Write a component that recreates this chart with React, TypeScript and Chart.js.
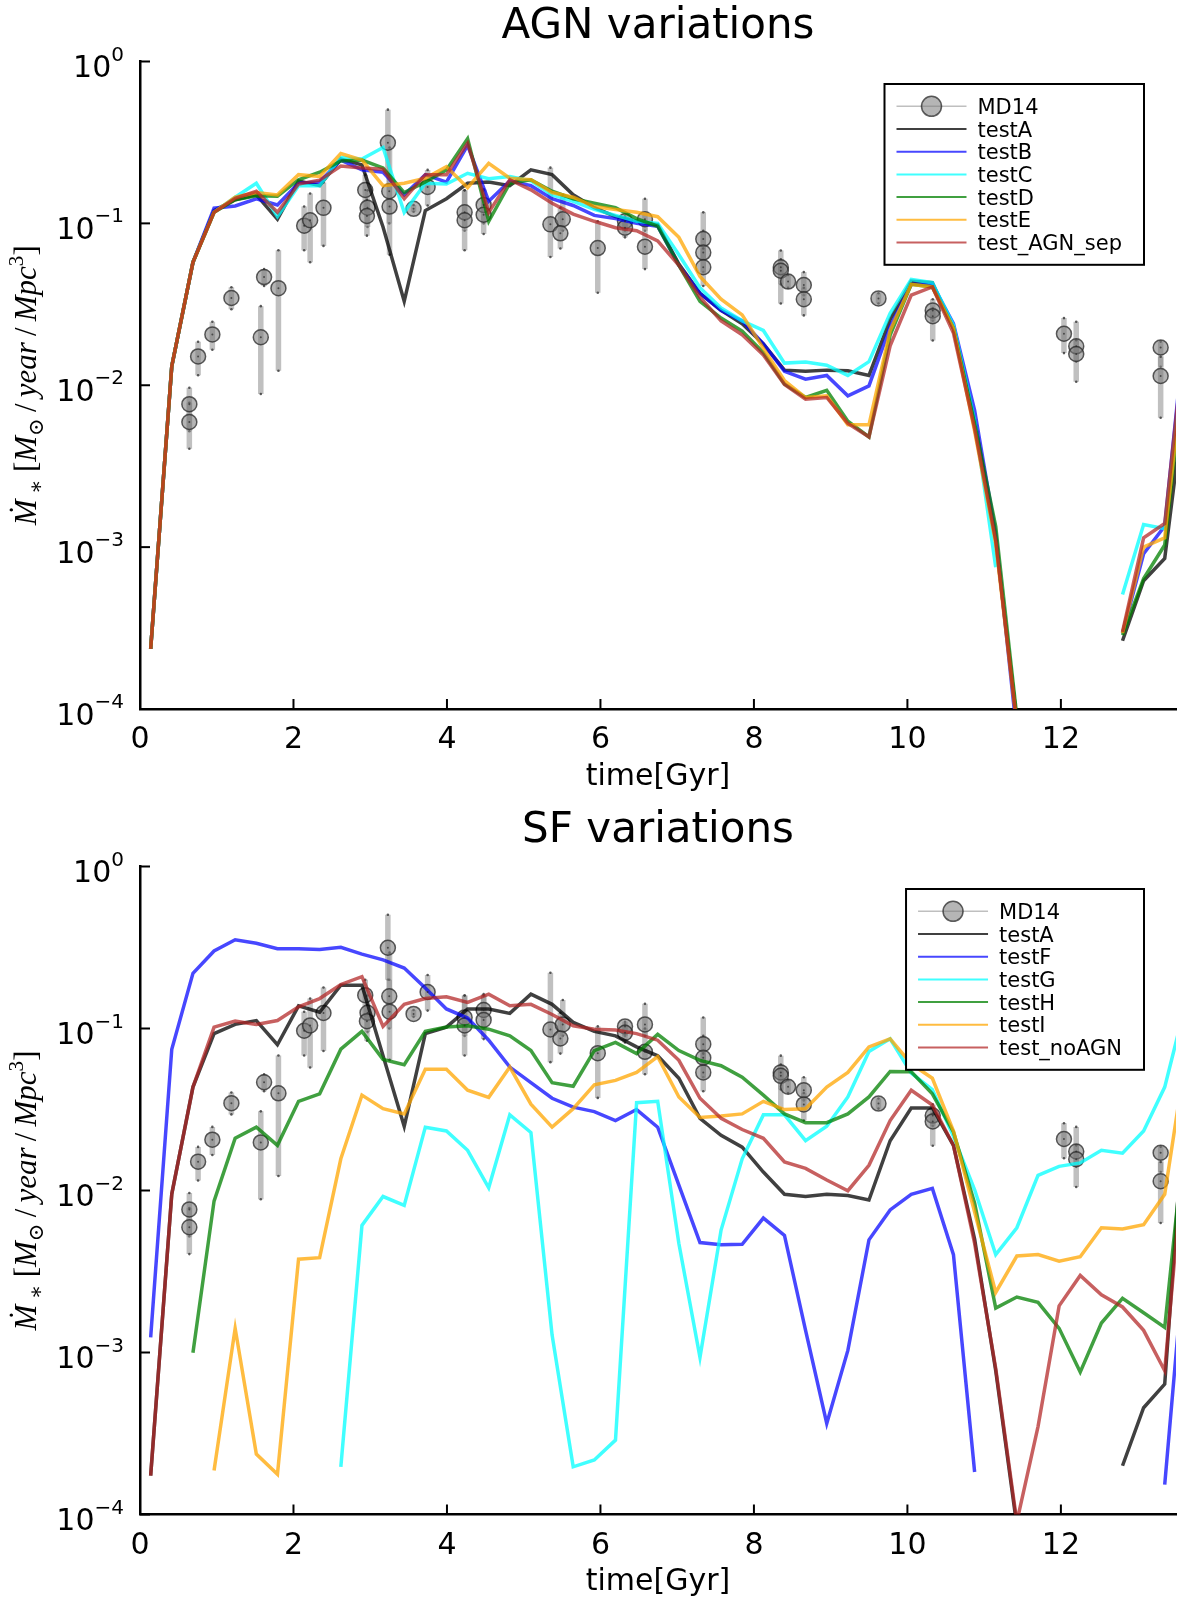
import React, { useEffect, useRef } from "react";
import { Chart, registerables } from "chart.js";

Chart.register(...registerables);

// ---------------- data ----------------
const timeGyr = [
  0.139, 0.414, 0.69, 0.965, 1.24, 1.516, 1.791, 2.066, 2.341, 2.617,
  2.892, 3.167, 3.443, 3.718, 3.993, 4.269, 4.544, 4.819, 5.094, 5.37,
  5.645, 5.92, 6.196, 6.471, 6.746, 7.022, 7.297, 7.572, 7.847, 8.123,
  8.398, 8.673, 8.949, 9.224, 9.499, 9.775, 10.05, 10.325, 10.6, 10.876,
  11.151, 11.426, 11.702, 11.977, 12.252, 12.528, 12.803, 13.078, 13.353, 13.629,
];

const agnTestA = [
  2.35e-4, 0.0131, 0.0575, 0.12, 0.14, 0.15, 0.106, 0.183, 0.171, 0.25,
  0.23, 0.095, 0.033, 0.12, 0.142, 0.177, 0.18, 0.171, 0.214, 0.2,
  0.15, 0.125, 0.11, 0.103, 0.098, 0.056, 0.037, 0.029, 0.024, 0.018,
  0.0124, 0.0122, 0.0124, 0.0123, 0.0115, 0.0255, 0.044, 0.043, 0.0225, 0.0061,
  0.00109, 8.5e-5, null, null, null, null, 2.64e-4, 6.2e-4, 8.5e-4, 0.0093,
];
const agnTestB = [
  2.35e-4, 0.0131, 0.0575, 0.124, 0.128, 0.142, 0.13, 0.177, 0.18, 0.246,
  0.214, 0.207, 0.15, 0.2, 0.18, 0.303, 0.137, 0.183, 0.171, 0.142,
  0.129, 0.112, 0.107, 0.1, 0.096, 0.055, 0.037, 0.029, 0.025, 0.018,
  0.0122, 0.0109, 0.0115, 0.0086, 0.0099, 0.023, 0.042, 0.042, 0.024, 0.007,
  0.0012, 7e-5, null, null, null, null, 2.94e-4, 9.1e-4, 1.35e-3, 0.026,
];
const agnTestC = [
  2.35e-4, 0.0131, 0.0575, 0.117, 0.145, 0.177, 0.11, 0.171, 0.171, 0.255,
  0.25, 0.294, 0.117, 0.177, 0.175, 0.204, 0.189, 0.195, 0.183, 0.15,
  0.137, 0.122, 0.112, 0.103, 0.1, 0.064, 0.04, 0.03, 0.025, 0.0218,
  0.0137, 0.0139, 0.0133, 0.0115, 0.014, 0.0278, 0.045, 0.043, 0.0235, 0.0061,
  7.5e-4, null, null, null, null, null, 5.1e-4, 1.38e-3, 1.3e-3, 0.019,
];
const agnTestD = [
  2.35e-4, 0.0131, 0.0575, 0.117, 0.14, 0.148, 0.147, 0.186, 0.207, 0.243,
  0.246, 0.22, 0.155, 0.18, 0.214, 0.334, 0.103, 0.177, 0.186, 0.158,
  0.142, 0.133, 0.125, 0.107, 0.096, 0.055, 0.033, 0.026, 0.0216, 0.0159,
  0.0102, 0.0084, 0.0093, 0.006, 0.0048, 0.0204, 0.042, 0.0405, 0.0225, 0.0058,
  0.00134, 9e-5, null, null, null, null, 2.86e-4, 6.4e-4, 1.03e-3, 0.016,
];
const agnTestE = [
  2.35e-4, 0.0131, 0.0575, 0.117, 0.145, 0.155, 0.15, 0.2, 0.195, 0.27,
  0.246, 0.171, 0.177, 0.19, 0.224, 0.166, 0.235, 0.19, 0.186, 0.155,
  0.145, 0.127, 0.122, 0.117, 0.11, 0.082, 0.047, 0.034, 0.0272, 0.0169,
  0.0107, 0.0084, 0.0086, 0.0057, 0.0057, 0.0218, 0.042, 0.0405, 0.0225, 0.0052,
  0.00105, 8e-5, null, null, null, null, 2.94e-4, 1.0e-3, 1.14e-3, 0.018,
];
const agnTestAGNsep = [
  2.35e-4, 0.0131, 0.0575, 0.117, 0.143, 0.158, 0.117, 0.175, 0.185, 0.226,
  0.22, 0.216, 0.142, 0.2, 0.2, 0.313, 0.117, 0.186, 0.161, 0.133,
  0.114, 0.103, 0.094, 0.09, 0.078, 0.055, 0.035, 0.025, 0.0205, 0.0154,
  0.0101, 0.0082, 0.0084, 0.0058, 0.0048, 0.0175, 0.036, 0.0405, 0.021, 0.0054,
  0.0011, 8e-5, null, null, null, null, 3.0e-4, 1.14e-3, 1.4e-3, 0.023,
];

const sfTestA = [
  1.74e-4, 0.0095, 0.0435, 0.093, 0.106, 0.112, 0.0794, 0.138, 0.126, 0.185,
  0.185, 0.0678, 0.0249, 0.093, 0.102, 0.132, 0.132, 0.124, 0.163, 0.141,
  0.109, 0.096, 0.09, 0.077, 0.0678, 0.0493, 0.0279, 0.0219, 0.0185, 0.013,
  0.00948, 0.00918, 0.00948, 0.0093, 0.00873, 0.0203, 0.0323, 0.0323, 0.019, 0.00502,
  7.72e-4, 8.5e-5, null, null, null, null, 2.0e-4, 4.56e-4, 6.38e-4, 0.044,
];
const sfTestF = [
  1.24e-3, 0.0745, 0.219, 0.301, 0.353, 0.336, 0.311, 0.311, 0.307, 0.317,
  0.288, 0.265, 0.236, 0.178, 0.132, 0.116, 0.0847, 0.0578, 0.0463, 0.0371,
  0.0327, 0.0307, 0.027, 0.0316, 0.0246, 0.0108, 4.77e-3, 4.62e-3, 4.65e-3, 6.76e-3,
  5.28e-3, 1.37e-3, 3.65e-4, 1.03e-3, 4.96e-3, 7.59e-3, 9.48e-3, 0.0103, 4.02e-3, 1.83e-4,
  null, null, null, null, null, null, null, null, 1.53e-4, 4.9e-3,
];
const sfTestG = [
  null, null, null, null, null, null, null, null, null, 1.97e-4,
  6.08e-3, 9.18e-3, 8.09e-3, 0.0246, 0.0233, 0.0177, 0.0104, 0.0293, 0.0228, 1.28e-3,
  1.97e-4, 2.17e-4, 2.88e-4, 0.0348, 0.0355, 4.71e-3, 9.34e-4, 5.7e-3, 0.0157, 0.0293,
  0.0293, 0.0203, 0.0249, 0.0378, 0.0722, 0.0863, 0.053, 0.042, 0.0216, 0.0101,
  4.02e-3, 5.89e-3, 0.0124, 0.0141, 0.0148, 0.0177, 0.017, 0.0233, 0.0435, 0.144,
];
const sfTestH = [
  null, null, 9.95e-4, 0.0086, 0.021, 0.0246, 0.019, 0.0355, 0.0395, 0.0745,
  0.096, 0.0645, 0.0597, 0.096, 0.102, 0.104, 0.099, 0.09, 0.0731, 0.0463,
  0.044, 0.0731, 0.082, 0.07, 0.092, 0.0731, 0.0636, 0.0589, 0.05, 0.0388,
  0.0297, 0.0262, 0.0262, 0.0297, 0.0378, 0.0543, 0.054, 0.0395, 0.023, 8.34e-3,
  1.88e-3, 2.2e-3, 2.04e-3, 1.41e-3, 7.57e-4, 1.52e-3, 2.16e-3, 1.76e-3, 1.43e-3, 0.026,
];
const sfTestI = [
  null, null, null, 1.87e-4, 1.41e-3, 2.36e-4, 1.77e-4, 3.77e-3, 3.85e-3, 0.0157,
  0.0388, 0.032, 0.0297, 0.056, 0.056, 0.0416, 0.0376, 0.0578, 0.0341, 0.0246,
  0.032, 0.0449, 0.0478, 0.0536, 0.067, 0.0378, 0.0282, 0.0288, 0.0297, 0.0355,
  0.0316, 0.032, 0.0435, 0.0536, 0.077, 0.0863, 0.0605, 0.0493, 0.0233, 7.35e-3,
  2.35e-3, 3.94e-3, 4.02e-3, 3.66e-3, 3.9e-3, 5.89e-3, 5.78e-3, 6.15e-3, 9.48e-3, 0.068,
];
const sfTestNoAGN = [
  1.74e-4, 0.0095, 0.0435, 0.102, 0.111, 0.106, 0.112, 0.136, 0.153, 0.187,
  0.209, 0.103, 0.141, 0.153, 0.157, 0.145, 0.163, 0.138, 0.141, 0.122,
  0.104, 0.099, 0.098, 0.093, 0.0847, 0.0636, 0.0371, 0.0279, 0.0238, 0.021,
  0.015, 0.0137, 0.0116, 9.97e-3, 0.0143, 0.027, 0.0416, 0.0337, 0.019, 4.71e-3,
  7.96e-4, 9e-5, 3.49e-4, 1.94e-3, 2.99e-3, 2.27e-3, 1.91e-3, 1.37e-3, 7.72e-4, 0.0234,
];

// Madau & Dickinson 2014 compilation
const md14Time = [
  0.643, 0.643, 0.757, 0.943, 1.191, 1.574, 1.617, 1.804, 2.139, 2.217,
  2.391, 2.935, 2.965, 2.957, 3.23, 3.248, 3.252, 3.565, 3.748, 4.23,
  4.23, 4.478, 4.478, 5.348, 5.509, 5.478, 5.965, 6.32, 6.32, 6.58,
  6.58, 7.34, 7.34, 7.34, 8.35, 8.35, 8.445, 8.65, 8.65, 9.623,
  10.33, 10.33, 12.04, 12.2, 12.2, 13.3, 13.3,
];
const md14Rate = [
  0.00764, 0.00593, 0.01507, 0.0206, 0.0346, 0.0198, 0.0466, 0.0398, 0.0968, 0.1045,
  0.1247, 0.1607, 0.125, 0.111, 0.315, 0.158, 0.127, 0.123, 0.168, 0.117,
  0.1045, 0.13, 0.113, 0.0986, 0.106, 0.0868, 0.0704, 0.103, 0.094, 0.106,
  0.0718, 0.08, 0.066, 0.0536, 0.0536, 0.051, 0.0437, 0.0416, 0.034, 0.0344,
  0.029, 0.0267, 0.0208, 0.0174, 0.0156, 0.0171, 0.0114,
];
const md14Low = [
  0.0052, 0.00405, 0.01153, 0.01656, 0.0295, 0.00883, 0.041, 0.0123, 0.0682, 0.0575,
  0.0726, 0.12, 0.095, 0.084, 0.2, 0.1, 0.064, 0.118, 0.129, 0.09,
  0.0682, 0.1, 0.086, 0.062, 0.09, 0.07, 0.0373, 0.09, 0.082, 0.09,
  0.0522, 0.06, 0.05, 0.041, 0.042, 0.032, 0.04, 0.036, 0.027, 0.032,
  0.025, 0.0189, 0.0158, 0.014, 0.0105, 0.013, 0.0063,
];
const md14High = [
  0.00966, 0.0078, 0.01858, 0.0247, 0.0403, 0.0308, 0.0522, 0.0682, 0.127, 0.153,
  0.179, 0.2, 0.16, 0.14, 0.504, 0.2, 0.294, 0.13, 0.214, 0.16,
  0.16, 0.163, 0.16, 0.221, 0.15, 0.125, 0.103, 0.11, 0.106, 0.142,
  0.1, 0.117, 0.09, 0.07, 0.068, 0.06, 0.048, 0.05, 0.04, 0.037,
  0.034, 0.03, 0.026, 0.0247, 0.019, 0.0186, 0.015,
];

const xTickValues = [0, 2, 4, 6, 8, 10, 12];
const yTickExponents = [0, -1, -2, -3, -4];
const X_MIN = 0;
const X_MAX = 13.5;

// ---------------- styles ----------------
const C_BLACK = "rgba(0,0,0,0.75)";
const C_BLUE = "rgba(0,0,255,0.72)";
const C_CYAN = "rgba(0,255,255,0.75)";
const C_GREEN = "rgba(0,128,0,0.75)";
const C_ORANGE = "rgba(255,165,0,0.75)";
const C_RED = "rgba(178,34,34,0.72)";

type Series = { label: string; color: string; values: (number | null)[] };

const agnSeries: Series[] = [
  { label: "testA", color: C_BLACK, values: agnTestA },
  { label: "testB", color: C_BLUE, values: agnTestB },
  { label: "testC", color: C_CYAN, values: agnTestC },
  { label: "testD", color: C_GREEN, values: agnTestD },
  { label: "testE", color: C_ORANGE, values: agnTestE },
  { label: "test_AGN_sep", color: C_RED, values: agnTestAGNsep },
];
const sfSeries: Series[] = [
  { label: "testA", color: C_BLACK, values: sfTestA },
  { label: "testF", color: C_BLUE, values: sfTestF },
  { label: "testG", color: C_CYAN, values: sfTestG },
  { label: "testH", color: C_GREEN, values: sfTestH },
  { label: "testI", color: C_ORANGE, values: sfTestI },
  { label: "test_noAGN", color: C_RED, values: sfTestNoAGN },
];

const SANS = '"DejaVu Sans", "Noto Sans", sans-serif';
const PLOT_LEFT = 140;
const PLOT_RIGHT = 1176;
const MARKER_FILL = "rgba(120,120,120,0.55)";
const MARKER_EDGE = "rgba(40,40,40,0.75)";

function drawYLabel(ctx: CanvasRenderingContext2D, cx: number, cy: number, targetLen: number) {
  const segs = [
    { t: "\u1E40", k: 1, dy: 0, it: true },
    { t: " \u2217", k: 0.68, dy: 0.22, it: false },
    { t: " [", k: 1, dy: 0, it: false },
    { t: "M", k: 1, dy: 0, it: true },
    { t: "\u2299", k: 0.68, dy: 0.22, it: false },
    { t: "\u2009/\u2009", k: 1, dy: 0, it: false },
    { t: "year", k: 1, dy: 0, it: true },
    { t: "\u2009/\u2009", k: 1, dy: 0, it: false },
    { t: "Mpc", k: 1, dy: 0, it: true },
    { t: "3", k: 0.68, dy: -0.42, it: false },
    { t: "]", k: 1, dy: 0, it: false },
  ];
  const fontOf = (it: boolean, size: number) =>
    `${it ? "italic " : ""}${size}px "Liberation Serif", "DejaVu Serif", serif`;
  const measureAll = (size: number) => {
    let w = 0;
    for (const s of segs) {
      ctx.font = fontOf(s.it, size * s.k);
      w += ctx.measureText(s.t).width;
    }
    return w;
  };
  const base = 100;
  const size = (base * targetLen) / measureAll(base);
  const total = measureAll(size);
  ctx.save();
  ctx.translate(cx, cy);
  ctx.rotate(-Math.PI / 2);
  ctx.fillStyle = "#000";
  ctx.textBaseline = "alphabetic";
  ctx.textAlign = "left";
  let x = -total / 2;
  const baseY = 0.3 * size;
  for (const s of segs) {
    ctx.font = fontOf(s.it, size * s.k);
    ctx.fillText(s.t, x, baseY + s.dy * size);
    x += ctx.measureText(s.t).width;
  }
  ctx.restore();
}

function makeDecorPlugin(title: string, series: Series[], titleY: number, tickLabelY: number, xLabelY: number) {
  return {
    id: "decor",
    beforeDatasetsDraw(chart: any) {
      const ctx: CanvasRenderingContext2D = chart.ctx;
      const xs = chart.scales.x;
      const ys = chart.scales.y;
      const a = chart.chartArea;
      ctx.save();
      ctx.beginPath();
      ctx.rect(a.left, a.top, a.right - a.left, a.bottom - a.top);
      ctx.clip();
      for (let i = 0; i < md14Time.length; i++) {
        const px = xs.getPixelForValue(md14Time[i]);
        const y1 = ys.getPixelForValue(md14Low[i]);
        const y2 = ys.getPixelForValue(md14High[i]);
        ctx.strokeStyle = "rgba(140,140,140,0.55)";
        ctx.lineWidth = 5.5;
        ctx.lineCap = "butt";
        ctx.beginPath();
        ctx.moveTo(px, y1);
        ctx.lineTo(px, y2);
        ctx.stroke();
        ctx.fillStyle = "rgba(50,50,50,0.8)";
        for (const yy of [y1, y2]) {
          ctx.beginPath();
          ctx.arc(px, yy, 1.3, 0, Math.PI * 2);
          ctx.fill();
        }
      }
      ctx.restore();
    },
    afterDatasetsDraw(chart: any) {
      const ctx: CanvasRenderingContext2D = chart.ctx;
      const xs = chart.scales.x;
      const ys = chart.scales.y;
      const a = chart.chartArea;
      ctx.save();
      ctx.beginPath();
      ctx.rect(a.left, a.top, a.right - a.left, a.bottom - a.top);
      ctx.clip();
      ctx.fillStyle = "rgba(40,40,40,0.7)";
      for (let i = 0; i < md14Time.length; i++) {
        const px = xs.getPixelForValue(md14Time[i]);
        const py = ys.getPixelForValue(md14Rate[i]);
        ctx.beginPath();
        ctx.arc(px, py, 1.0, 0, Math.PI * 2);
        ctx.fill();
      }
      ctx.restore();
    },
    afterDraw(chart: any) {
      const ctx: CanvasRenderingContext2D = chart.ctx;
      const xs = chart.scales.x;
      const ys = chart.scales.y;
      const a = chart.chartArea;
      ctx.save();
      // inward tick marks
      ctx.strokeStyle = "#000";
      ctx.lineWidth = 2;
      for (const v of xTickValues) {
        const px = xs.getPixelForValue(v);
        ctx.beginPath();
        ctx.moveTo(px, a.bottom);
        ctx.lineTo(px, a.bottom - 10);
        ctx.stroke();
      }
      for (const e of yTickExponents) {
        const py = ys.getPixelForValue(Math.pow(10, e));
        ctx.beginPath();
        ctx.moveTo(a.left, py);
        ctx.lineTo(a.left + 10, py);
        ctx.stroke();
      }
      // x tick labels
      ctx.fillStyle = "#000";
      ctx.textAlign = "center";
      ctx.textBaseline = "alphabetic";
      ctx.font = `30px ${SANS}`;
      for (const v of xTickValues) {
        const px = xs.getPixelForValue(v);
        ctx.fillText(String(v), px, tickLabelY + 0.3645 * 30);
      }
      // y tick labels: 10^e
      for (const e of yTickExponents) {
        const py = ys.getPixelForValue(Math.pow(10, e));
        const expText = e === 0 ? "0" : "\u2212" + String(-e);
        ctx.font = `20px ${SANS}`;
        const wExp = ctx.measureText(expText).width;
        ctx.font = `30px ${SANS}`;
        const wTen = ctx.measureText("10").width;
        const right = 124;
        const expX = right - wExp;
        ctx.textAlign = "left";
        ctx.font = `30px ${SANS}`;
        ctx.fillText("10", expX - wTen, py + 15.5);
        ctx.font = `20px ${SANS}`;
        ctx.fillText(expText, expX, py - 1);
      }
      // title
      const cxPlot = (a.left + a.right) / 2;
      ctx.textAlign = "center";
      ctx.font = `42px ${SANS}`;
      ctx.fillText(title, cxPlot, titleY + 0.3645 * 42);
      // x label
      ctx.font = `30px ${SANS}`;
      ctx.fillText("time[Gyr]", cxPlot, xLabelY + 9);
      // y label
      drawYLabel(ctx, 26.5, (a.top + a.bottom) / 2, 280);

      // legend
      const fontSize = 21;
      ctx.font = `${fontSize}px ${SANS}`;
      const labels = ["MD14", ...series.map((s) => s.label)];
      let maxW = 0;
      for (const l of labels) maxW = Math.max(maxW, ctx.measureText(l).width);
      const boxW = 12 + 70 + 11 + maxW + 22;
      const boxRight = a.right - 32;
      const boxX = boxRight - boxW;
      const boxY = a.top + 22.5;
      const rowH = 22.7;
      const padV = 22.3;
      const boxH = padV * 2 + rowH * (labels.length - 1);
      ctx.fillStyle = "#fff";
      ctx.fillRect(boxX, boxY, boxW, boxH);
      ctx.strokeStyle = "#000";
      ctx.lineWidth = 2;
      ctx.strokeRect(boxX, boxY, boxW, boxH);
      for (let k = 0; k < labels.length; k++) {
        const cy = boxY + padV + k * rowH;
        if (k === 0) {
          ctx.strokeStyle = "rgba(0,0,0,0.25)";
          ctx.lineWidth = 1.5;
          ctx.beginPath();
          ctx.moveTo(boxX + 12, cy);
          ctx.lineTo(boxX + 82, cy);
          ctx.stroke();
          ctx.beginPath();
          ctx.arc(boxX + 47, cy, 10, 0, Math.PI * 2);
          ctx.fillStyle = MARKER_FILL;
          ctx.fill();
          ctx.strokeStyle = MARKER_EDGE;
          ctx.lineWidth = 1.5;
          ctx.stroke();
        } else {
          ctx.strokeStyle = series[k - 1].color;
          ctx.lineWidth = 2;
          ctx.beginPath();
          ctx.moveTo(boxX + 12, cy);
          ctx.lineTo(boxX + 82, cy);
          ctx.stroke();
        }
        ctx.fillStyle = "#000";
        ctx.textAlign = "left";
        ctx.font = `${fontSize}px ${SANS}`;
        ctx.fillText(labels[k], boxX + 93, cy + 0.3645 * fontSize);
      }
      ctx.restore();
    },
  };
}

function buildConfig(
  title: string,
  series: Series[],
  canvasHeight: number,
  plotTop: number,
  plotBottom: number,
  titleY: number,
  tickLabelY: number,
  xLabelY: number
): any {
  const datasets: any[] = [
    {
      label: "MD14",
      type: "line",
      data: md14Time.map((t, i) => ({ x: t, y: md14Rate[i] })),
      showLine: false,
      pointRadius: 7.5,
      pointBackgroundColor: MARKER_FILL,
      pointBorderColor: MARKER_EDGE,
      pointBorderWidth: 1.5,
      order: 100,
    },
  ];
  series.forEach((s, idx) => {
    datasets.push({
      label: s.label,
      type: "line",
      data: timeGyr.map((t, i) => ({ x: t, y: s.values[i] })),
      borderColor: s.color,
      backgroundColor: s.color,
      borderWidth: 3.5,
      pointRadius: 0,
      tension: 0,
      spanGaps: false,
      fill: false,
      clip: 0,
      order: series.length - idx,
    });
  });
  return {
    type: "line",
    data: { datasets },
    options: {
      responsive: false,
      animation: false,
      devicePixelRatio: 1,
      events: [],
      layout: { padding: { left: 0, right: 1200 - PLOT_RIGHT, top: plotTop, bottom: 0 } },
      plugins: {
        legend: { display: false },
        tooltip: { enabled: false },
        title: { display: false },
      },
      scales: {
        x: {
          type: "linear",
          position: "bottom",
          min: X_MIN,
          max: X_MAX,
          afterBuildTicks: (s: any) => {
            s.ticks = xTickValues.map((v) => ({ value: v }));
          },
          afterFit: (s: any) => {
            s.height = canvasHeight - plotBottom;
          },
          ticks: { display: false },
          grid: { display: false, drawTicks: false },
          border: { display: true, color: "#000", width: 2.5 },
        },
        y: {
          type: "logarithmic",
          position: "left",
          min: 1e-4,
          max: 1,
          afterBuildTicks: (s: any) => {
            s.ticks = yTickExponents.map((e) => ({ value: Math.pow(10, e) }));
          },
          afterFit: (s: any) => {
            s.width = PLOT_LEFT;
          },
          ticks: { display: false },
          grid: { display: false, drawTicks: false },
          border: { display: true, color: "#000", width: 2.5 },
        },
      },
    },
    plugins: [makeDecorPlugin(title, series, titleY, tickLabelY, xLabelY)],
  };
}

type PanelProps = {
  top: number;
  height: number;
  plotTop: number;
  plotBottom: number;
  title: string;
  series: Series[];
  titleY: number;
  tickLabelY: number;
  xLabelY: number;
};

function ChartPanel(p: PanelProps) {
  const ref = useRef<HTMLCanvasElement | null>(null);
  useEffect(() => {
    const canvas = ref.current;
    if (!canvas) return;
    const chart = new Chart(
      canvas,
      buildConfig(p.title, p.series, p.height, p.plotTop, p.plotBottom, p.titleY, p.tickLabelY, p.xLabelY)
    );
    return () => chart.destroy();
  }, []);
  return (
    <canvas
      ref={ref}
      width={1200}
      height={p.height}
      style={{ position: "absolute", left: 0, top: p.top, width: 1200, height: p.height, display: "block" }}
    />
  );
}

export default function App() {
  return (
    <div style={{ position: "absolute", left: 0, top: 0, width: 1200, height: 1605, background: "#fff" }}>
      <ChartPanel
        top={0}
        height={800}
        plotTop={61.5}
        plotBottom={709}
        title="AGN variations"
        series={agnSeries}
        titleY={22.5}
        tickLabelY={737.5}
        xLabelY={776}
      />
      <ChartPanel
        top={800}
        height={805}
        plotTop={66.5}
        plotBottom={714.5}
        title="SF variations"
        series={sfSeries}
        titleY={27}
        tickLabelY={743}
        xLabelY={781}
      />
    </div>
  );
}
